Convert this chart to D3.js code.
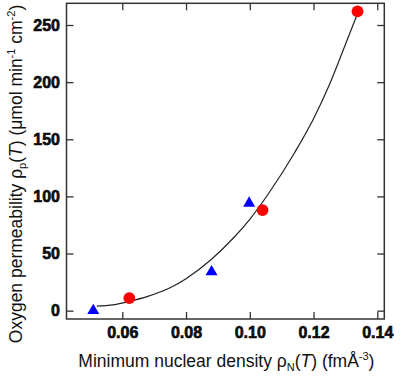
<!DOCTYPE html>
<html>
<head>
<meta charset="utf-8">
<script src="https://cdn.jsdelivr.net/npm/d3@7"></script>
<style>
  body { margin: 0; background: #fff; }
  svg { display: block; }
  text { font-family: "Liberation Sans", Arial, sans-serif; fill: #111; }
  .tick text { font-family: "Liberation Sans", Arial, sans-serif !important; font-weight: bold !important; font-size: 16px !important; }
</style>
</head>
<body>
<svg id="chart"></svg>
<script>
// red circles
const circleX = [0.0622, 0.1040, 0.1338]
const circleY = [11, 88, 262]
// blue triangles
const triX = [0.0509, 0.0880, 0.0998]
const triY = [0, 34, 94]
// fitted curve
const fitX = [0.052, 0.057, 0.062, 0.068, 0.075, 0.080, 0.088, 0.095, 0.100, 0.106, 0.114, 0.120, 0.125, 0.130, 0.1338]
const fitY = [4, 5, 8, 12.5, 20, 28, 45, 64, 80, 103, 138, 168, 198, 233, 260]

const xTicks = [0.06, 0.08, 0.10, 0.12, 0.14]
const yTicks = [0, 50, 100, 150, 200, 250]

const width = 400, height = 383
const frame = {left: 66.5, right: 384.3, top: 3.3, bottom: 319}

const svg = d3.select("#chart")
    .attr("width", width)
    .attr("height", height)

const x = d3.scaleLinear()
    .domain([0.0425, 0.1422])
    .range([frame.left, frame.right])

const y = d3.scaleLinear()
    .domain([-7.3, 269])
    .range([frame.bottom, frame.top])

// bottom axis with labels, ticks point inward
const bottomAxis = svg.append("g")
    .attr("transform", `translate(0, ${frame.bottom})`)
    .call(d3.axisBottom(x).tickValues(xTicks).tickFormat(d3.format(".2f"))
        .tickSizeInner(-7).tickSizeOuter(0).tickPadding(7.3))
bottomAxis.select(".domain").remove()

const leftAxis = svg.append("g")
    .attr("transform", `translate(${frame.left}, 0)`)
    .call(d3.axisLeft(y).tickValues(yTicks)
        .tickSizeInner(-7).tickSizeOuter(0).tickPadding(6.5))
leftAxis.select(".domain").remove()

// mirrored ticks on top and right, no labels
const topAxis = svg.append("g")
    .attr("transform", `translate(0, ${frame.top})`)
    .call(d3.axisTop(x).tickValues(xTicks).tickFormat("").tickSizeInner(-7).tickSizeOuter(0))
topAxis.select(".domain").remove()

const rightAxis = svg.append("g")
    .attr("transform", `translate(${frame.right}, 0)`)
    .call(d3.axisRight(y).tickValues(yTicks).tickFormat("").tickSizeInner(-7).tickSizeOuter(0))
rightAxis.select(".domain").remove()

svg.selectAll(".tick line").attr("stroke", "#333").attr("stroke-width", 1.3)
svg.selectAll(".tick text")
    .attr("fill", "#000")
    .attr("stroke", "#000")
    .attr("stroke-width", 0.6)

// plot frame
svg.append("rect")
    .attr("x", frame.left)
    .attr("y", frame.top)
    .attr("width", frame.right - frame.left)
    .attr("height", frame.bottom - frame.top)
    .attr("fill", "none")
    .attr("stroke", "#333")
    .attr("stroke-width", 1.5)

// fit curve
const fit = fitX.map((d, i) => ({x: d, y: fitY[i]}))
const line = d3.line()
    .x(d => x(d.x))
    .y(d => y(d.y))
    .curve(d3.curveMonotoneX)

svg.append("path")
    .datum(fit)
    .attr("d", line)
    .attr("fill", "none")
    .attr("stroke", "#222")
    .attr("stroke-width", 1.2)

// markers
const tri = d3.symbol().type(d3.symbolTriangle).size(62)
svg.selectAll("path.tri")
    .data(triX.map((d, i) => ({x: d, y: triY[i]})))
    .join("path")
    .attr("class", "tri")
    .attr("d", tri)
    .attr("transform", d => `translate(${x(d.x)}, ${y(d.y)})`)
    .attr("fill", "#0000ff")

svg.selectAll("circle.pt")
    .data(circleX.map((d, i) => ({x: d, y: circleY[i]})))
    .join("circle")
    .attr("class", "pt")
    .attr("cx", d => x(d.x))
    .attr("cy", d => y(d.y))
    .attr("r", 5.9)
    .attr("fill", "#ff0000")

// x axis title
const xt = svg.append("text")
    .attr("x", (frame.left + frame.right) / 2 + 1)
    .attr("y", 367)
    .attr("text-anchor", "middle")
    .style("font-size", "17.5px")
xt.append("tspan").text("Minimum nuclear density ρ")
xt.append("tspan").attr("dy", 4).style("font-size", "11px").text("N")
xt.append("tspan").attr("dy", -4).text("(")
xt.append("tspan").style("font-style", "italic").text("T")
xt.append("tspan").text(") (fmÅ")
xt.append("tspan").attr("dy", -7).style("font-size", "11px").text("-3")
xt.append("tspan").attr("dy", 7).text(")")

// y axis title
const yt = svg.append("text")
    .attr("transform", "translate(21.5, 174) rotate(-90)")
    .attr("text-anchor", "middle")
    .style("font-size", "17.5px")
yt.append("tspan").text("Oxygen permeability ρ")
yt.append("tspan").attr("dy", 4).style("font-size", "11px").text("p")
yt.append("tspan").attr("dy", -4).text("(")
yt.append("tspan").style("font-style", "italic").text("T")
yt.append("tspan").text(") (μmol min")
yt.append("tspan").attr("dy", -7).style("font-size", "11px").text("-1")
yt.append("tspan").attr("dy", 7).text(" cm")
yt.append("tspan").attr("dy", -7).style("font-size", "11px").text("-2")
yt.append("tspan").attr("dy", 7).text(")")
</script>
</body>
</html>
